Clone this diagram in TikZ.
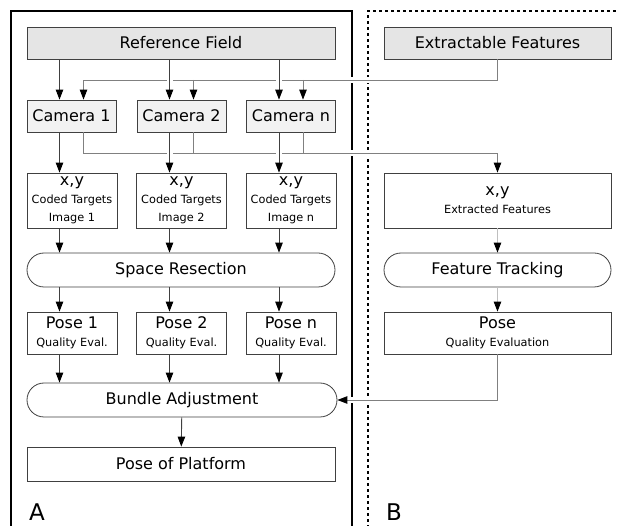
\documentclass[tikz,border=0pt]{standalone}
\usepackage{fontspec}
\setmainfont{DejaVu Sans}
\usetikzlibrary{arrows.meta}
\newcommand{\smallfont}{\fontsize{11.3}{17}\selectfont}
\newcommand{\boxtext}[2]{#1 \\ \smallfont #2}
\newcommand{\xytext}[2]{x,y \\ \smallfont #1 \\ \smallfont #2}

\begin{document}
\begin{tikzpicture}[x = 1pt, y = -1pt, every node/.style = {draw = black!75, line width = 0.8pt, inner sep = 0pt, align = center, font = \fontsize{16}{18}\selectfont},
	srcbox/.style = {fill = gray!20, minimum height = 32pt},
	cambox/.style = {fill = gray!10, minimum width = 89pt, minimum height = 32pt},
	databox/.style = {fill = white, minimum height = 55pt},
	posebox/.style = {fill = white, minimum height = 42pt},
	procbox/.style = {fill = white, rounded corners = 17pt, minimum height = 34pt},
	panel/.style = {draw = none, font = \fontsize{23}{26}\selectfont},
	link/.style = {draw = black!75, line width = 0.9pt, -{Triangle[length = 10pt, width = 7.5pt, black]}},
	bus/.style = {draw = black!50},
	light/.style = {draw = black!25},
	gap/.style = {preaction = {draw = white, line width = 6pt, -, shorten <= 4pt, shorten >= 4pt}}]

	\useasboundingbox (0, 0) rectangle (619, 526);

	% the two panels
	\draw[line width = 2pt] (11, 540) -- (11, 11) -- (352, 11) -- (352, 540);
	\draw[line width = 2pt, dash pattern = on 3pt off 3pt] (368, 540) -- (368, 11) -- (630, 11);
	\node (A) at (37, 512) [panel] {A};
	\node (B) at (394, 512) [panel] {B};

	\node (ref)   at (181, 43)    [srcbox, minimum width = 308pt] {Reference Field};
	\node (ext)   at (497.5, 43)  [srcbox, minimum width = 227pt] {Extractable Features};
	\node (cam1)  at (71.5, 116)  [cambox] {Camera 1};
	\node (cam2)  at (181.5, 116) [cambox] {Camera 2};
	\node (camn)  at (291, 116)   [cambox] {Camera n};
	\node (xy1)   at (72, 200.5)  [databox, minimum width = 90pt] {\xytext{Coded Targets}{Image 1}};
	\node (xy2)   at (181.5, 200.5) [databox, minimum width = 90pt] {\xytext{Coded Targets}{Image 2}};
	\node (xyn)   at (291, 200.5) [databox, minimum width = 90pt] {\xytext{Coded Targets}{Image n}};
	\node (sr)    at (181, 270)   [procbox, minimum width = 308pt] {Space Resection};
	\node (pose1) at (72, 333)    [posebox, minimum width = 90pt] {\boxtext{Pose 1}{Quality Eval.}};
	\node (pose2) at (181.5, 333) [posebox, minimum width = 90pt] {\boxtext{Pose 2}{Quality Eval.}};
	\node (posen) at (291, 333)   [posebox, minimum width = 90pt] {\boxtext{Pose n}{Quality Eval.}};
	\node (ba)    at (182, 400)   [procbox, minimum width = 310pt] {Bundle Adjustment};
	\node (pop)   at (181, 464)   [fill = white, minimum width = 308pt, minimum height = 34pt] {Pose of Platform};
	\node (exf)   at (497.5, 200.5) [databox, minimum width = 227pt] {\boxtext{x,y}{Extracted Features}};
	\node (ft)    at (497.5, 270) [procbox, minimum width = 227pt] {Feature Tracking};
	\node (posex) at (497.5, 333) [posebox, minimum width = 227pt] {\boxtext{Pose}{Quality Evaluation}};

	\coordinate (topbus) at (0, 80);
	\coordinate (lowbus) at (0, 153);
	\foreach \c in {cam1, cam2, camn} {
		\coordinate (\c-in)  at ([xshift = -12pt]\c.north);
		\coordinate (\c-ext) at ([xshift = 12pt]\c.north);
		\coordinate (\c-out) at ([xshift = -12pt]\c.south);
		\coordinate (\c-bus) at ([xshift = 12pt]\c.south);
	}

	% features feed every camera, cameras feed the tracking
	\draw[link, bus, gap] (ext.south) |- (cam1-ext |- topbus) -- (cam1-ext);
	\draw[link, bus, gap] (cam1-bus) |- (exf.north |- lowbus) -- (exf.north);
	\foreach \c in {cam2, camn} {
		\draw[link, bus] (\c-ext |- topbus) -- (\c-ext);
		\draw[bus, line width = 0.9pt] (\c-bus) -- (\c-bus |- lowbus);
	}

	\foreach \c/\d/\p in {cam1/xy1/pose1, cam2/xy2/pose2, camn/xyn/posen} {
		\draw[link, gap] (\c-in |- ref.south) -- (\c-in);
		\draw[link, gap] (\c-out) -- (\c-out |- \d.north);
		\draw[link] (\c-out |- \d.south) -- (\c-out |- sr.north);
		\draw[link] (\c-out |- sr.south) -- (\c-out |- \p.north);
		\draw[link] (\c-out |- \p.south) -- (\c-out |- ba.north);
	}

	\draw[link, light] (exf) -- (ft);
	\draw[link, light] (ft) -- (posex);
	\draw[link, bus, gap] (posex.south) |- (ba.east);
	\draw[link] (ba) -- (pop);
\end{tikzpicture}
\end{document}
